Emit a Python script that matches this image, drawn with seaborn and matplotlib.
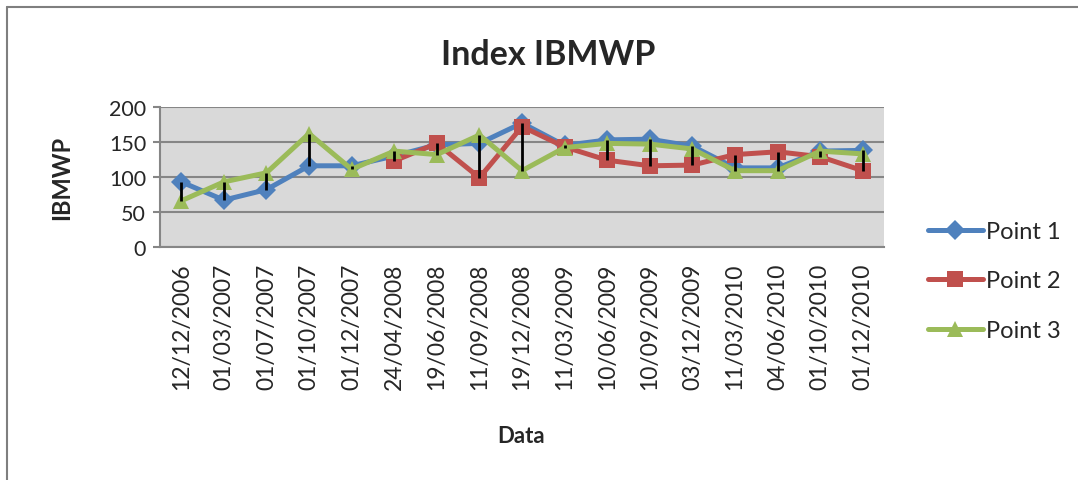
import numpy as np
import pandas as pd
import seaborn as sns
import matplotlib.pyplot as plt
from matplotlib.lines import Line2D

dates = ["12/12/2006", "01/03/2007", "01/07/2007", "01/10/2007", "01/12/2007",
         "24/04/2008", "19/06/2008", "11/09/2008", "19/12/2008", "11/03/2009",
         "10/06/2009", "10/09/2009", "03/12/2009", "11/03/2010", "04/06/2010",
         "01/10/2010", "01/12/2010"]
point1 = [93, 67, 82, 116, 116, 130, 146, 148, 177, 145, 153, 154, 144, 113, 113, 137, 138]
point2 = [np.nan, np.nan, np.nan, np.nan, np.nan,
          123, 148, 99, 172, 143, 124, 116, 117, 132, 136, 129, 109]
point3 = [66, 93, 106, 162, 111, 137, 132, 160, 109, 142, 148, 147, 140, 109, 109, 137, 133]
series_names = ["Point 1", "Point 2", "Point 3"]

# formato lungo per seaborn
df = pd.DataFrame({
    "pos": list(range(len(dates))) * 3,
    "serie": np.repeat(series_names, len(dates)),
    "valore": point1 + point2 + point3,
})

sns.set_style("white")
plt.rcParams['font.family'] = ['Lato', 'DejaVu Sans']

colors = {"Point 1": "#4F81BD", "Point 2": "#C0504D", "Point 3": "#9BBB59"}
markers = {"Point 1": "D", "Point 2": "s", "Point 3": "^"}
msize = {"Point 1": 10.5, "Point 2": 11, "Point 3": 12}

fig = plt.figure(figsize=(10.78, 4.81), dpi=100)
ax = fig.add_axes([0.1484, 0.4844, 0.8201 - 0.1484, 0.2911])
ax.set_facecolor("#D9D9D9")

for name in series_names:
    sub = df[df["serie"] == name].dropna()
    sns.lineplot(data=sub, x="pos", y="valore", ax=ax, color=colors[name],
                 marker=markers[name], markersize=msize[name], markeredgewidth=0,
                 linewidth=3.6, legend=False, zorder=3)

# linee max-min
vals = np.array([point1, point2, point3], dtype=float)
hi = np.nanmax(vals, axis=0)
lo = np.nanmin(vals, axis=0)
ax.vlines(range(len(dates)), lo, hi, color="black", linewidth=2, zorder=5)

ax.set_xlim(-0.5, len(dates) - 0.5)
ax.set_ylim(0, 200)
ax.set_yticks([0, 50, 100, 150, 200])
ax.yaxis.grid(True, color="#868686", linewidth=1.5)
ax.set_axisbelow(True)
ax.set_xticks(range(len(dates)))
ax.set_xticklabels(dates, rotation=90, fontsize=16.5)
ax.tick_params(axis="y", labelsize=15.5, length=5, width=1.5, color="#868686", left=True, pad=5)
ax.tick_params(axis="x", length=0, pad=11)
for s in ["top", "right"]:
    ax.spines[s].set_visible(False)
for s in ["left", "bottom"]:
    ax.spines[s].set_color("#868686")
    ax.spines[s].set_linewidth(1.5)
ax.set_xlabel("")
ax.set_ylabel("")

fig.text(548 / 1078, 1 - 55 / 481, "Index IBMWP", fontsize=24.5, fontweight="bold",
         ha="center", va="center")
fig.text(62 / 1078, 1 - 178 / 481, "IBMWP", fontsize=17, fontweight="bold",
         rotation=90, ha="center", va="center")
fig.text(521 / 1078, 1 - 437 / 481, "Data", fontsize=16, fontweight="bold",
         ha="center", va="center")

handles = [Line2D([0], [0], color=colors[n], marker=markers[n], markersize=msize[n],
                  markeredgewidth=0, linewidth=3.6) for n in series_names]
fig.legend(handles, series_names, loc="center left", bbox_to_anchor=(907 / 1078, 1 - 282 / 481),
           frameon=False, fontsize=17, handlelength=2.3, handletextpad=0.15, labelspacing=1.2)

# cornice del grafico (solo sinistra e alto visibili)
fig.add_artist(Line2D([7 / 1078, 7 / 1078], [0, 1 - 8 / 481], color="#7F7F7F", linewidth=1.5))
fig.add_artist(Line2D([7 / 1078, 1], [1 - 8 / 481, 1 - 8 / 481], color="#7F7F7F", linewidth=1.5))

fig.savefig("out.png", dpi=100)
